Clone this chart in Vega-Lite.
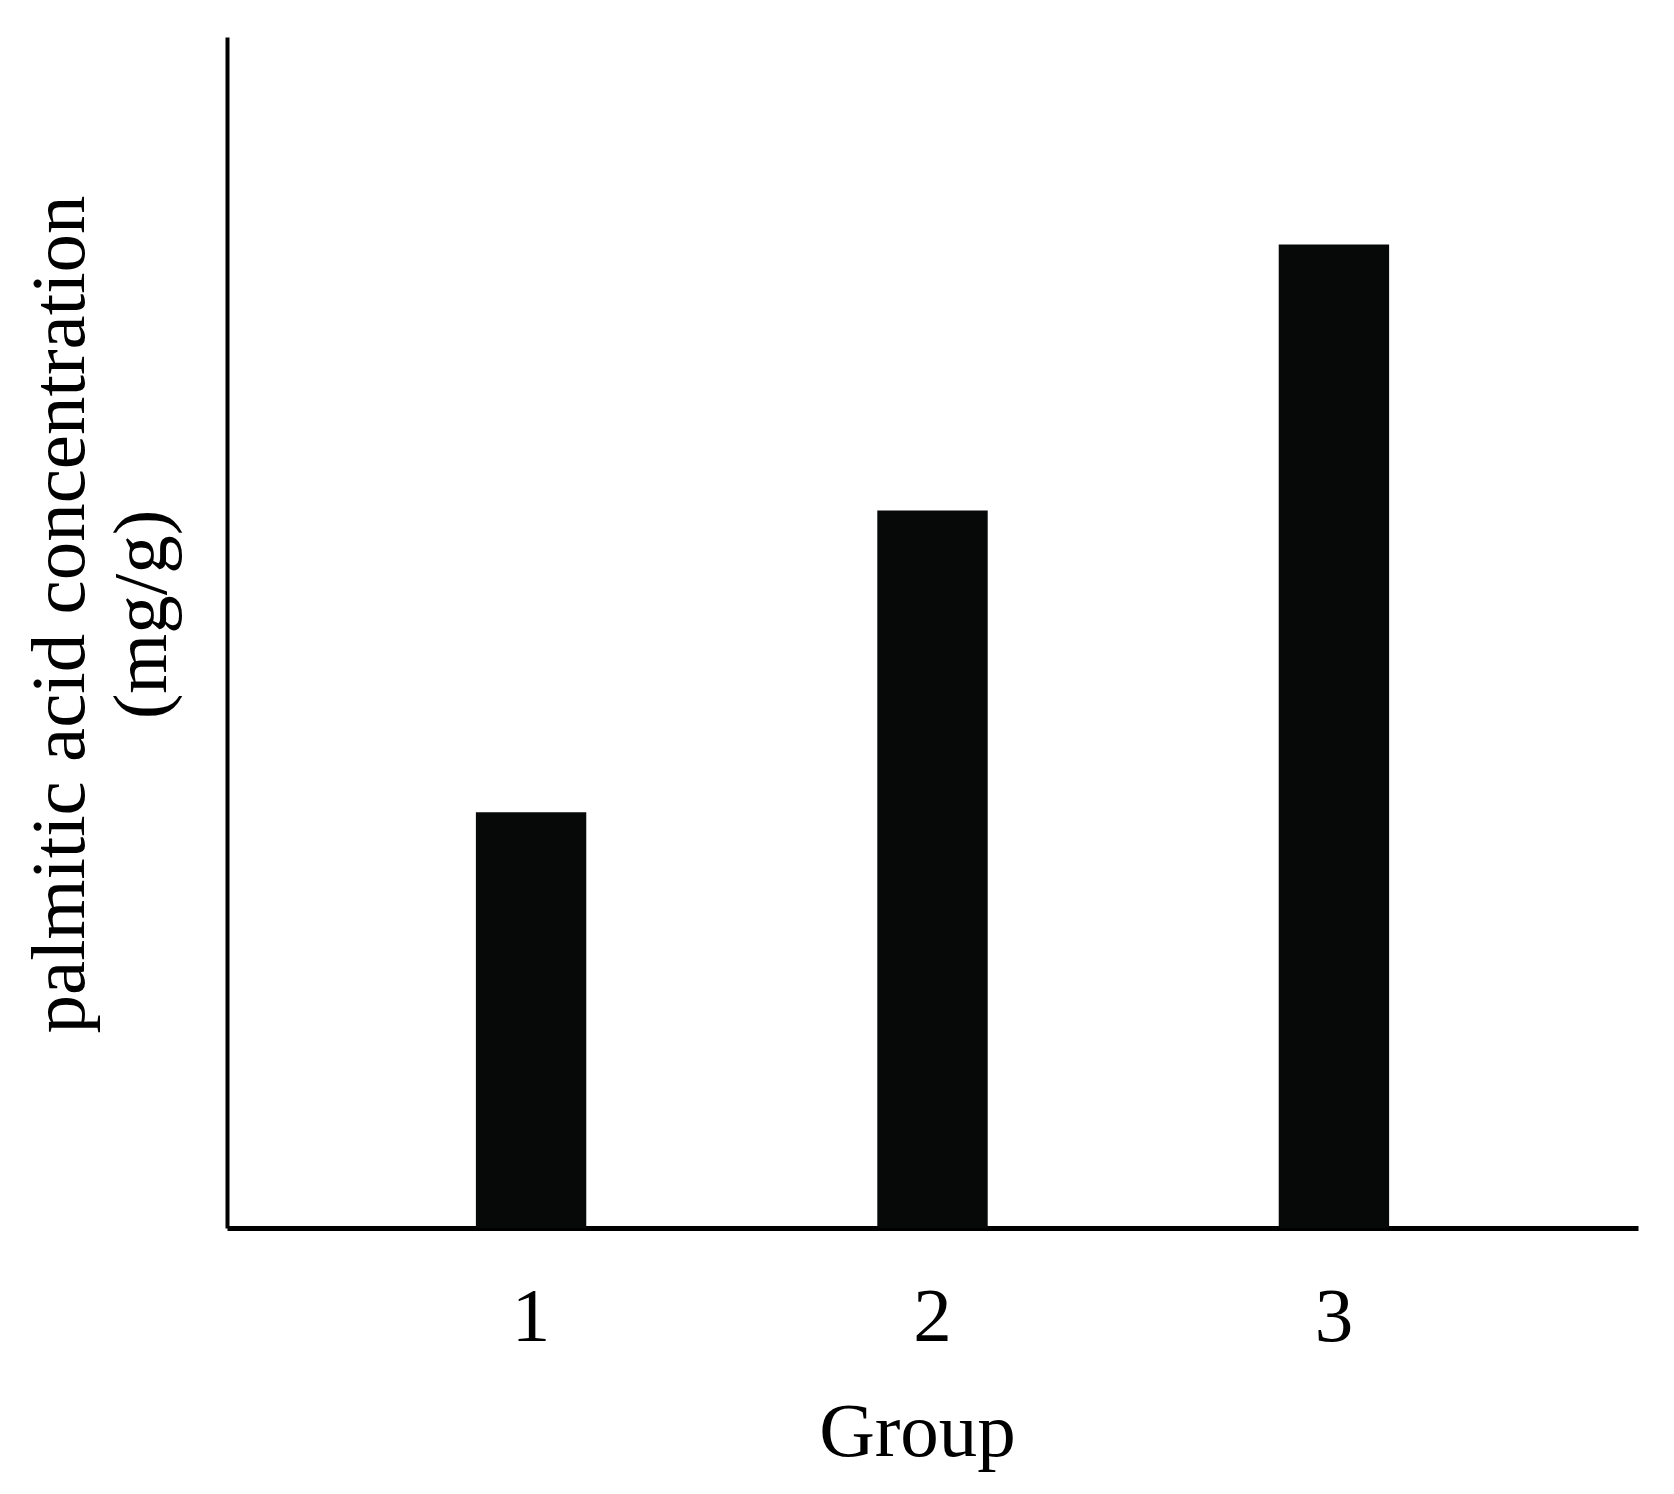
{
  "$schema": "https://vega.github.io/schema/vega-lite/v6.json",
  "width": 1411,
  "height": 1191,
  "autosize": {"type": "none"},
  "padding": {"left": 227, "top": 37, "right": 36, "bottom": 266},
  "background": "white",
  "config": {
    "view": {"stroke": null},
    "font": "Liberation Serif"
  },
  "data": {
    "values": [
      {"group": "1", "concentration": 4.19},
      {"group": "2", "concentration": 7.23},
      {"group": "3", "concentration": 9.91}
    ]
  },
  "mark": {"type": "bar", "color": "#070908"},
  "encoding": {
    "x": {
      "field": "group",
      "type": "nominal",
      "sort": null,
      "scale": {"paddingInner": 0.725, "paddingOuter": 0.62},
      "axis": {
        "title": "Group",
        "titleFont": "Liberation Serif",
        "titleFontSize": 77,
        "titleFontWeight": "normal",
        "titleColor": "black",
        "titleBaseline": "alphabetic",
        "titleX": 690,
        "titleY": 227,
        "labelFont": "Liberation Serif",
        "labelFontSize": 77,
        "labelColor": "black",
        "labelAngle": 0,
        "labelBaseline": "alphabetic",
        "labelPadding": 112,
        "ticks": false,
        "tickSize": 0,
        "domainColor": "black",
        "domainWidth": 5,
        "grid": false
      }
    },
    "y": {
      "field": "concentration",
      "type": "quantitative",
      "scale": {"domain": [0, 12], "nice": false},
      "axis": {
        "title": ["palmitic acid concentration", "(mg/g)"],
        "titleFont": "Liberation Serif",
        "titleFontSize": 77,
        "titleFontWeight": "normal",
        "titleColor": "black",
        "titleLineHeight": 82,
        "titleAngle": -90,
        "titleAlign": "center",
        "titleBaseline": "middle",
        "titleX": -167,
        "titleY": 577,
        "labels": false,
        "ticks": false,
        "tickSize": 0,
        "domainColor": "black",
        "domainWidth": 4,
        "grid": false
      }
    }
  }
}
